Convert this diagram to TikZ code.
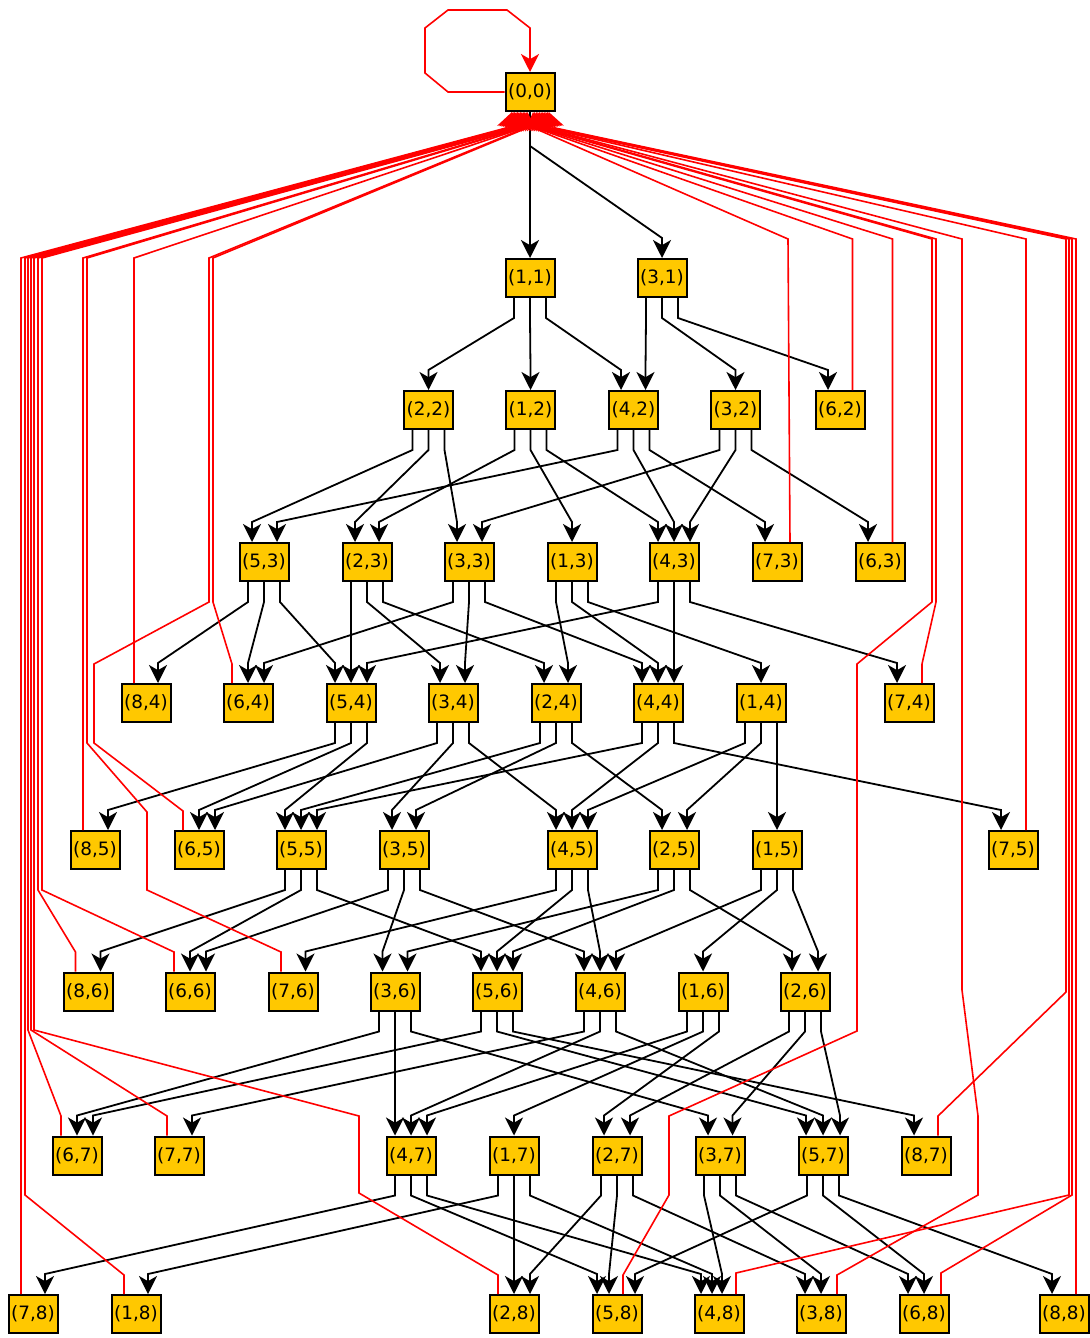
\documentclass[tikz,border=0pt]{standalone}
\usepackage{fontspec}
\setmainfont{DejaVu Sans}
\usetikzlibrary{arrows.meta}
\definecolor{nodefill}{RGB}{255,200,0}
\definecolor{backred}{RGB}{255,0,0}
\tikzset{
  box/.style={draw=black, line width=1pt, fill=nodefill, minimum width=24.5pt, minimum height=19pt, inner sep=0pt, font=\fontsize{9.2pt}{10pt}\selectfont},
  edge/.style={draw=black, line width=0.9pt, line join=miter, -{Stealth[length=9pt,width=9pt,inset=2.6pt]}},
  redge/.style={draw=backred, line width=0.8pt, line join=miter, -{Stealth[length=9pt,width=9pt,inset=2.6pt]}}
}
\newcommand{\gedge}[4]{\draw[edge] ([xshift=#2pt]#1.south) -- ++(0,20) -- ([xshift=#4pt,yshift=10pt]#3.north) -- ([xshift=#4pt]#3.north);}
\begin{document}
\begin{tikzpicture}[x=0.5pt,y=-0.5pt]
\useasboundingbox (0,0) rectangle (1089,1338);
\fill[white] (0,0) rectangle (1089,1338);
% nodes
\node[box] (n00) at (530,92) {(0,0)};
\node[box] (n11) at (530,278) {(1,1)};
\node[box] (n31) at (662,278) {(3,1)};
\node[box] (n22) at (428.5,410) {(2,2)};
\node[box] (n12) at (530.5,410) {(1,2)};
\node[box] (n42) at (633.5,410) {(4,2)};
\node[box] (n32) at (735.5,410) {(3,2)};
\node[box] (n62) at (840,410) {(6,2)};
\node[box] (n53) at (264,562) {(5,3)};
\node[box] (n23) at (367,562) {(2,3)};
\node[box] (n33) at (469,562) {(3,3)};
\node[box] (n13) at (572,562) {(1,3)};
\node[box] (n43) at (674,562) {(4,3)};
\node[box] (n73) at (777,562) {(7,3)};
\node[box] (n63) at (880,562) {(6,3)};
\node[box] (n84) at (146,703) {(8,4)};
\node[box] (n64) at (248,703) {(6,4)};
\node[box] (n54) at (351,703) {(5,4)};
\node[box] (n34) at (453,703) {(3,4)};
\node[box] (n24) at (556,703) {(2,4)};
\node[box] (n44) at (658,703) {(4,4)};
\node[box] (n14) at (761,703) {(1,4)};
\node[box] (n74) at (909,703) {(7,4)};
\node[box] (n85) at (95,850) {(8,5)};
\node[box] (n65) at (199,850) {(6,5)};
\node[box] (n55) at (301,850) {(5,5)};
\node[box] (n35) at (404,850) {(3,5)};
\node[box] (n45) at (572,850) {(4,5)};
\node[box] (n25) at (674,850) {(2,5)};
\node[box] (n15) at (777,850) {(1,5)};
\node[box] (n75) at (1013,850) {(7,5)};
\node[box] (n86) at (88,991.5) {(8,6)};
\node[box] (n66) at (190,991.5) {(6,6)};
\node[box] (n76) at (293,991.5) {(7,6)};
\node[box] (n36) at (395,991.5) {(3,6)};
\node[box] (n56) at (497,991.5) {(5,6)};
\node[box] (n46) at (600,991.5) {(4,6)};
\node[box] (n16) at (703,991.5) {(1,6)};
\node[box] (n26) at (805,991.5) {(2,6)};
\node[box] (n67) at (77,1155.5) {(6,7)};
\node[box] (n77) at (179,1155.5) {(7,7)};
\node[box] (n47) at (411,1155.5) {(4,7)};
\node[box] (n17) at (514,1155.5) {(1,7)};
\node[box] (n27) at (617,1155.5) {(2,7)};
\node[box] (n37) at (720,1155.5) {(3,7)};
\node[box] (n57) at (823,1155.5) {(5,7)};
\node[box] (n87) at (926,1155.5) {(8,7)};
\node[box] (n78) at (33,1314) {(7,8)};
\node[box] (n18) at (136,1314) {(1,8)};
\node[box] (n28) at (514,1314) {(2,8)};
\node[box] (n58) at (617,1314) {(5,8)};
\node[box] (n48) at (719,1314) {(4,8)};
\node[box] (n38) at (821,1314) {(3,8)};
\node[box] (n68) at (924,1314) {(6,8)};
\node[box] (n88) at (1064,1314) {(8,8)};
% self loop
\draw[redge] (n00.west) -- (448,92) -- (425,73) -- (425,28) -- (448,10) -- (507,10) -- (530,28) -- (n00.north);
% black edges from root
\draw[edge] (n00.south) -- ++(0,34) -- (n11.north);
\draw[edge] (n00.south) -- ++(0,34) -- ([yshift=10pt]n31.north) -- (n31.north);
% row 1 -> 2
\gedge{n11}{-8}{n22}{0}
\gedge{n11}{0}{n12}{0}
\gedge{n11}{8}{n42}{-6.25}
\gedge{n31}{-8}{n42}{6}
\gedge{n31}{0}{n32}{0}
\gedge{n31}{8}{n62}{-6}
% row 2 -> 3
\gedge{n22}{-8}{n53}{-6}
\gedge{n22}{0}{n23}{-6}
\gedge{n22}{8}{n33}{-6}
\gedge{n12}{-8}{n23}{6}
\gedge{n12}{0}{n13}{0}
\gedge{n12}{8}{n43}{-8}
\gedge{n42}{-8}{n53}{6.5}
\gedge{n42}{0}{n43}{0}
\gedge{n42}{8}{n73}{-6}
\gedge{n32}{-8}{n33}{6.5}
\gedge{n32}{0}{n43}{8}
\gedge{n32}{8}{n63}{-6}
% row 3 -> 4
\gedge{n53}{-8}{n84}{6}
\gedge{n53}{0}{n64}{0}
\gedge{n53}{8}{n54}{-8}
\gedge{n23}{-8}{n54}{0}
\gedge{n23}{0}{n34}{-6.5}
\gedge{n23}{8}{n24}{-6}
\gedge{n33}{-8}{n64}{8}
\gedge{n33}{0}{n34}{6}
\gedge{n33}{8}{n44}{-8}
\gedge{n13}{-8}{n24}{6}
\gedge{n13}{0}{n44}{0}
\gedge{n13}{8}{n14}{0}
\gedge{n43}{-8}{n54}{8}
\gedge{n43}{0}{n44}{8}
\gedge{n43}{8}{n74}{-6}
% row 4 -> 5
\gedge{n54}{-8}{n85}{6.5}
\gedge{n54}{0}{n65}{0}
\gedge{n54}{8}{n55}{-8}
\gedge{n34}{-8}{n65}{8}
\gedge{n34}{0}{n35}{-6}
\gedge{n34}{8}{n45}{-8}
\gedge{n24}{-8}{n55}{0}
\gedge{n24}{0}{n35}{6}
\gedge{n24}{8}{n25}{-6}
\gedge{n44}{-8}{n55}{8}
\gedge{n44}{0}{n45}{0}
\gedge{n44}{8}{n75}{-6}
\gedge{n14}{-8}{n45}{8}
\gedge{n14}{0}{n25}{6.5}
\gedge{n14}{8}{n15}{0}
% row 5 -> 6
\gedge{n55}{-8}{n86}{6.25}
\gedge{n55}{0}{n66}{0}
\gedge{n55}{8}{n56}{-8}
\gedge{n35}{-8}{n66}{8}
\gedge{n35}{0}{n36}{-6.25}
\gedge{n35}{8}{n46}{-8}
\gedge{n45}{-8}{n76}{6.25}
\gedge{n45}{0}{n56}{0}
\gedge{n45}{8}{n46}{0}
\gedge{n25}{-8}{n36}{6.25}
\gedge{n25}{0}{n56}{8}
\gedge{n25}{8}{n26}{-6.5}
\gedge{n15}{-8}{n46}{8}
\gedge{n15}{0}{n16}{0}
\gedge{n15}{8}{n26}{6.5}
% row 6 -> 7
\gedge{n36}{-8}{n67}{0}
\gedge{n36}{0}{n47}{-8}
\gedge{n36}{8}{n37}{-6}
\gedge{n56}{-8}{n67}{8}
\gedge{n56}{0}{n57}{-8.5}
\gedge{n56}{8}{n87}{-6}
\gedge{n46}{-8}{n77}{6.5}
\gedge{n46}{0}{n47}{0}
\gedge{n46}{8}{n57}{0}
\gedge{n16}{-8}{n47}{8}
\gedge{n16}{0}{n17}{0}
\gedge{n16}{8}{n27}{-6.5}
\gedge{n26}{-8}{n27}{6.5}
\gedge{n26}{0}{n37}{6.25}
\gedge{n26}{8}{n57}{8.5}
% row 7 -> 8
\gedge{n47}{-8}{n78}{6}
\gedge{n47}{0}{n58}{-10}
\gedge{n47}{8}{n48}{-9}
\gedge{n17}{-8}{n18}{6}
\gedge{n17}{0}{n28}{0}
\gedge{n17}{8}{n48}{-3.5}
\gedge{n27}{-8}{n28}{8}
\gedge{n27}{0}{n58}{-4}
\gedge{n27}{8}{n38}{-8}
\gedge{n37}{-8}{n48}{1.5}
\gedge{n37}{0}{n38}{0}
\gedge{n37}{8}{n68}{-8}
\gedge{n57}{-8}{n58}{9}
\gedge{n57}{0}{n68}{0}
\gedge{n57}{8}{n88}{-6}
% red back edges, left side
\draw[redge] ([xshift=-6pt]n78.north) -- (21,258) -- ([xshift=-12pt,yshift=-8pt]n00.south) -- ([xshift=-9pt]n00.south);
\draw[redge] ([xshift=-6pt]n18.north) -- (124,1275) -- (25,1195) -- (25,258) -- ([xshift=-11.05pt,yshift=-8pt]n00.south) -- ([xshift=-8.29pt]n00.south);
\draw[redge] ([xshift=-8pt]n67.north) -- (61,1116) -- (28,1030) -- (28,258) -- ([xshift=-10.1pt,yshift=-8pt]n00.south) -- ([xshift=-7.58pt]n00.south);
\draw[redge] ([xshift=-6pt]n77.north) -- (167,1116) -- (31,1030) -- (31,258) -- ([xshift=-9.15pt,yshift=-8pt]n00.south) -- ([xshift=-6.86pt]n00.south);
\draw[redge] ([xshift=-8pt]n28.north) -- (498,1275) -- (359,1193) -- (359,1116) -- (34,1030) -- (34,258) -- ([xshift=-8.2pt,yshift=-8pt]n00.south) -- ([xshift=-6.15pt]n00.south);
\draw[redge] ([xshift=-6.25pt]n86.north) -- (75.5,952) -- (38,890) -- (38,258) -- ([xshift=-7.25pt,yshift=-8pt]n00.south) -- ([xshift=-5.44pt]n00.south);
\draw[redge] ([xshift=-8pt]n66.north) -- (174,952) -- (42,890) -- (42,258) -- ([xshift=-6.3pt,yshift=-8pt]n00.south) -- ([xshift=-4.73pt]n00.south);
\draw[redge] ([xshift=-6pt]n85.north) -- (83,258) -- ([xshift=-5.35pt,yshift=-8pt]n00.south) -- ([xshift=-4.01pt]n00.south);
\draw[redge] ([xshift=-6pt]n76.north) -- (281,952) -- (147,890) -- (147,812) -- (87,743) -- (87,258) -- ([xshift=-4.4pt,yshift=-8pt]n00.south) -- ([xshift=-3.3pt]n00.south);
\draw[redge] ([xshift=-6pt]n84.north) -- (134,258) -- ([xshift=-3.45pt,yshift=-8pt]n00.south) -- ([xshift=-2.59pt]n00.south);
\draw[redge] ([xshift=-8pt]n65.north) -- (183,811) -- (94,743) -- (94,664) -- (209,602) -- (209,258) -- ([xshift=-2.5pt,yshift=-8pt]n00.south) -- ([xshift=-1.88pt]n00.south);
\draw[redge] ([xshift=-8pt]n64.north) -- (232,664) -- (213,602) -- (213,258) -- ([xshift=-1.55pt,yshift=-8pt]n00.south) -- ([xshift=-1.16pt]n00.south);
% red back edges, right side
\draw[redge] ([xshift=6.5pt]n73.north) -- (788,239) -- ([xshift=2pt,yshift=-8pt]n00.south) -- ([xshift=1.5pt]n00.south);
\draw[redge] ([xshift=6.25pt]n62.north) -- (852.5,239) -- ([xshift=3.05pt,yshift=-8pt]n00.south) -- ([xshift=2.29pt]n00.south);
\draw[redge] ([xshift=6.25pt]n63.north) -- (892.5,239) -- ([xshift=4.1pt,yshift=-8pt]n00.south) -- ([xshift=3.08pt]n00.south);
\draw[redge] ([xshift=3pt]n58.north) -- (623,1275) -- (669,1195) -- (669,1116) -- (857,1031) -- (857,664) -- (932,602) -- (932,239) -- ([xshift=5.15pt,yshift=-8pt]n00.south) -- ([xshift=3.86pt]n00.south);
\draw[redge] ([xshift=6.5pt]n74.north) -- (922,664) -- (936,602) -- (936,239) -- ([xshift=6.2pt,yshift=-8pt]n00.south) -- ([xshift=4.65pt]n00.south);
\draw[redge] ([xshift=8pt]n38.north) -- (837,1275) -- (978,1195) -- (978,1116) -- (962,990) -- (962,239) -- ([xshift=7.25pt,yshift=-8pt]n00.south) -- ([xshift=5.44pt]n00.south);
\draw[redge] ([xshift=6.5pt]n75.north) -- (1026,239) -- ([xshift=8.3pt,yshift=-8pt]n00.south) -- ([xshift=6.23pt]n00.south);
\draw[redge] ([xshift=6pt]n87.north) -- (938,1116) -- (1066,992) -- (1066,239) -- ([xshift=9.35pt,yshift=-8pt]n00.south) -- ([xshift=7.01pt]n00.south);
\draw[redge] ([xshift=8.5pt]n48.north) -- (736,1273) -- (1069,1195) -- (1069,239) -- ([xshift=10.4pt,yshift=-8pt]n00.south) -- ([xshift=7.8pt]n00.south);
\draw[redge] ([xshift=8.5pt]n68.north) -- (941,1273) -- (1072,1195) -- (1072,239) -- ([xshift=11.45pt,yshift=-8pt]n00.south) -- ([xshift=8.59pt]n00.south);
\draw[redge] ([xshift=6pt]n88.north) -- (1076,239) -- ([xshift=12.5pt,yshift=-8pt]n00.south) -- ([xshift=9.38pt]n00.south);
\end{tikzpicture}
\end{document}
